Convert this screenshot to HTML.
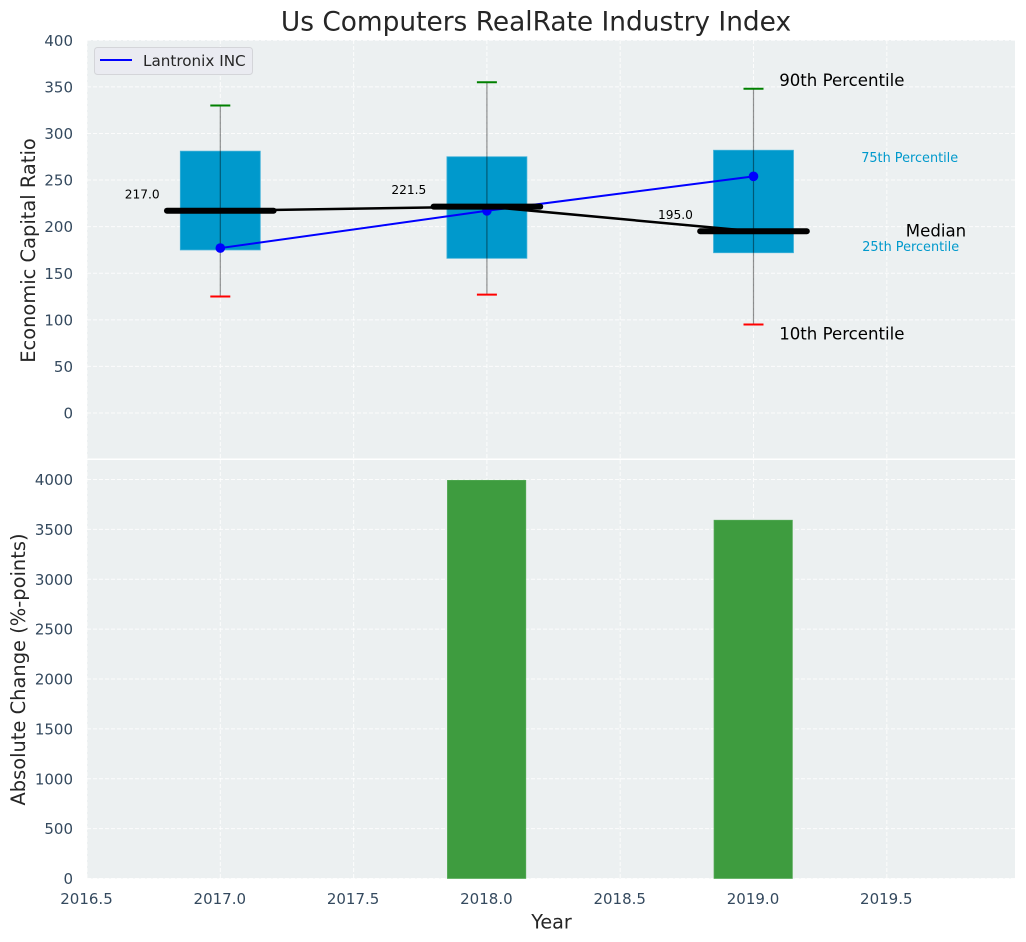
<!DOCTYPE html>
<html lang="en">
<head>
<meta charset="utf-8">
<title>Us Computers RealRate Industry Index</title>
<style>
html,body{margin:0;padding:0;background:#fff;}
svg{display:block;font-family:"DejaVu Sans","Liberation Sans",sans-serif;}
</style>
</head>
<body>
<svg id="chart" xmlns="http://www.w3.org/2000/svg" width="1026" height="942" viewBox="0 0 1026 942">
  <rect x="87" y="40" width="928" height="418.5" fill="#ecf0f1"/>
  <rect x="87" y="460" width="928" height="418.5" fill="#ecf0f1"/>
  <g id="grid"></g>
  <g id="boxes"></g>
  <g id="bars"></g>
  <g id="lines"></g>
  <g id="labels"></g>
  <g id="ticks"></g>
  <text x="536" y="30.5" font-size="26.4" fill="#262626" text-anchor="middle">Us Computers RealRate Industry Index</text>
  <text transform="translate(35,250.5) rotate(-90)" font-size="19.44" fill="#262626" text-anchor="middle">Economic Capital Ratio</text>
  <text transform="translate(25,669.5) rotate(-90)" font-size="19.44" fill="#262626" text-anchor="middle">Absolute Change (%-points)</text>
  <text x="551.5" y="928.5" font-size="19.2" fill="#262626" text-anchor="middle">Year</text>
  <g>
    <rect x="94.5" y="47.5" width="158" height="27" rx="3" fill="#eaebf1" stroke="#d4d5d9" stroke-width="1"/>
    <line x1="100" y1="60" x2="132" y2="60" stroke="#0000ff" stroke-width="2"/>
    <text x="143" y="66" font-size="15.2" fill="#262626">Lantronix INC</text>
  </g>
</svg>
<script>
const years = [2017, 2018, 2019];
const p10 = [125, 127, 95];
const p25 = [175, 166, 172];
const median = [217, 221.5, 195];
const p75 = [281, 275, 282];
const p90 = [330, 355, 348];
const company = [177, 217, 254];
const changeYears = [2018, 2019];
const changeValues = [3992, 3592];
const xTicks = [2016.5, 2017, 2017.5, 2018, 2018.5, 2019, 2019.5];
const topYTicks = [0, 50, 100, 150, 200, 250, 300, 350, 400];
const bottomYTicks = [0, 500, 1000, 1500, 2000, 2500, 3000, 3500, 4000];

const NS = 'http://www.w3.org/2000/svg';
const x = v => 87 + (v - 2016.5) * 266.6;
const yTop = v => 413 - v * 0.9318;
const yBottom = v => 878.5 - v * 0.09975;

function make(parent, tag, props, text) {
  const el = document.createElementNS(NS, tag);
  for (const k in props) el.setAttribute(k, props[k]);
  if (text !== undefined) el.textContent = text;
  document.getElementById(parent).appendChild(el);
  return el;
}

const gridStyle = {stroke: '#ffffff', 'stroke-width': 1, 'stroke-dasharray': '4 2', opacity: 0.85};
xTicks.forEach(t => {
  const a = make('grid', 'line', {x1: x(t), x2: x(t), y1: 40, y2: 458.5, ...gridStyle});
  
  
  const b = make('grid', 'line', {x1: x(t), x2: x(t), y1: 460, y2: 878.5, ...gridStyle});
  
  
  const l = make('ticks', 'text', {x: x(t) - 0.5, y: 904, 'font-size': 15, fill: '#34495e', 'text-anchor': 'middle'}, t.toFixed(1));
  
  
});
topYTicks.forEach(t => {
  const g = make('grid', 'line', {x1: 87, x2: 1015, y1: yTop(t), y2: yTop(t), ...gridStyle});
  
  
  const l = make('ticks', 'text', {x: 73, y: yTop(t) + 5.6, 'font-size': 15, fill: '#34495e', 'text-anchor': 'end'}, String(t));
  
  
});
bottomYTicks.forEach(t => {
  const g = make('grid', 'line', {x1: 87, x2: 1015, y1: yBottom(t), y2: yBottom(t), ...gridStyle});
  
  
  const l = make('ticks', 'text', {x: 73, y: yBottom(t) + 5.6, 'font-size': 15, fill: '#34495e', 'text-anchor': 'end'}, String(t));
  
  
});

years.forEach((yr, i) => {
  const cx = x(yr);
  const box = make('boxes', 'rect', {x: x(yr - 0.15), width: x(yr + 0.15) - x(yr - 0.15), y: yTop(p75[i]), height: yTop(p25[i]) - yTop(p75[i]), fill: '#0099cc', stroke: '#3fb1d8', 'stroke-width': 0.8});
  
  
  const w = make('boxes', 'line', {x1: cx, x2: cx, y1: yTop(p90[i]), y2: yTop(p10[i]), stroke: '#000000', 'stroke-width': 1.2, opacity: 0.42});
  
  
  const hi = make('boxes', 'line', {x1: cx - 10, x2: cx + 10, y1: yTop(p90[i]), y2: yTop(p90[i]), stroke: '#008000', 'stroke-width': 2});
  
  
  const lo = make('boxes', 'line', {x1: cx - 10, x2: cx + 10, y1: yTop(p10[i]), y2: yTop(p10[i]), stroke: '#ff0000', 'stroke-width': 2});
  
  
});

changeYears.forEach((yr, i) => {
  const bar = make('bars', 'rect', {x: x(yr - 0.15) + 0.5, width: 78.4, y: yBottom(changeValues[i]), height: yBottom(0) - yBottom(changeValues[i]), fill: '#3e9c3f', stroke: '#55ab57', 'stroke-width': 0.7});
  
  
});

const companyLine = make('lines', 'polyline', {points: years.map((yr, i) => x(yr) + ',' + yTop(company[i])).join(' '), fill: 'none', stroke: '#0000ff', 'stroke-width': 2});


years.forEach((yr, i) => {
  const dot = make('lines', 'circle', {cx: x(yr), cy: yTop(company[i]), r: 4.8, fill: '#0000ff'});
  
  
});
const medianLine = make('lines', 'polyline', {points: years.map((yr, i) => x(yr) + ',' + yTop(median[i])).join(' '), fill: 'none', stroke: '#000000', 'stroke-width': 2.5});


years.forEach((yr, i) => {
  const m = make('lines', 'line', {x1: x(yr - 0.2), x2: x(yr + 0.2), y1: yTop(median[i]), y2: yTop(median[i]), stroke: '#000000', 'stroke-width': 6, 'stroke-linecap': 'round'});
  
  
  const l = make('labels', 'text', {x: x(yr) - 95.5, y: yTop(median[i]) - 12.5, 'font-size': 12.2, fill: '#000000'}, median[i].toFixed(1));
  
  
});

const last = years.length - 1;
const lx = x(years[last]);
const t90 = make('labels', 'text', {x: lx + 25.7, y: yTop(p90[last]) - 2.8, 'font-size': 16.6, fill: '#000000'}, '90th Percentile');


const t10 = make('labels', 'text', {x: lx + 25.7, y: yTop(p10[last]) + 15.2, 'font-size': 16.6, fill: '#000000'}, '10th Percentile');


const t75 = make('labels', 'text', {x: lx + 107.7, y: yTop(p75[last]) + 11.8, 'font-size': 12.85, fill: '#0099cc'}, '75th Percentile');


const t25 = make('labels', 'text', {x: lx + 108.7, y: yTop(p25[last]) - 1.8, 'font-size': 12.85, fill: '#0099cc'}, '25th Percentile');


const tm = make('labels', 'text', {x: lx + 152.3, y: yTop(median[last]) + 5, 'font-size': 16.6, fill: '#000000'}, 'Median');


</script>
</body>
</html>
